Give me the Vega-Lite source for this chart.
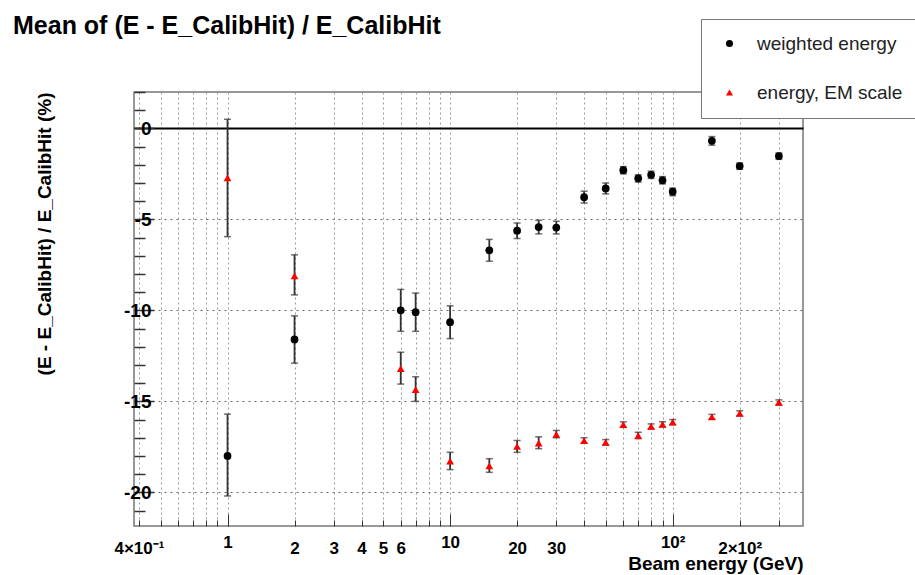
{
  "$schema": "https://vega.github.io/schema/vega-lite/v6.json",
  "width": 669,
  "height": 434,
  "autosize": {"type": "none"},
  "padding": {"left": 134, "top": 92, "right": 112, "bottom": 49},
  "background": "white",
  "title": {
    "text": "Mean of (E - E_CalibHit) / E_CalibHit",
    "anchor": "start",
    "frame": "group",
    "font": "Liberation Sans",
    "fontSize": 25,
    "fontWeight": "bold",
    "color": "black",
    "dx": -121,
    "offset": 0,
    "dy": 20
  },
  "config": {
    "view": {"stroke": "#777", "strokeWidth": 1.5},
    "font": "Liberation Sans"
  },
  "data": {
    "values": [
      {"E": 1, "series": "weighted energy", "v": -18.0, "lo": -20.2, "hi": -15.7},
      {"E": 2, "series": "weighted energy", "v": -11.6, "lo": -12.9, "hi": -10.3},
      {"E": 6, "series": "weighted energy", "v": -10.0, "lo": -11.15, "hi": -8.85},
      {"E": 7, "series": "weighted energy", "v": -10.1, "lo": -11.15, "hi": -9.05},
      {"E": 10, "series": "weighted energy", "v": -10.65, "lo": -11.55, "hi": -9.75},
      {"E": 15, "series": "weighted energy", "v": -6.7, "lo": -7.3, "hi": -6.1},
      {"E": 20, "series": "weighted energy", "v": -5.62, "lo": -6.05, "hi": -5.2},
      {"E": 25, "series": "weighted energy", "v": -5.42, "lo": -5.8, "hi": -5.05},
      {"E": 30, "series": "weighted energy", "v": -5.45, "lo": -5.8, "hi": -5.1},
      {"E": 40, "series": "weighted energy", "v": -3.78, "lo": -4.1, "hi": -3.45},
      {"E": 50, "series": "weighted energy", "v": -3.3, "lo": -3.6, "hi": -3.0},
      {"E": 60, "series": "weighted energy", "v": -2.3, "lo": -2.5, "hi": -2.1},
      {"E": 70, "series": "weighted energy", "v": -2.74, "lo": -2.95, "hi": -2.55},
      {"E": 80, "series": "weighted energy", "v": -2.55, "lo": -2.75, "hi": -2.35},
      {"E": 90, "series": "weighted energy", "v": -2.85, "lo": -3.05, "hi": -2.65},
      {"E": 100, "series": "weighted energy", "v": -3.48, "lo": -3.7, "hi": -3.28},
      {"E": 150, "series": "weighted energy", "v": -0.68, "lo": -0.92, "hi": -0.45},
      {"E": 200, "series": "weighted energy", "v": -2.07, "lo": -2.25, "hi": -1.9},
      {"E": 300, "series": "weighted energy", "v": -1.52, "lo": -1.7, "hi": -1.35},
      {"E": 1, "series": "energy, EM scale", "v": -2.72, "lo": -5.95, "hi": 0.5},
      {"E": 2, "series": "energy, EM scale", "v": -8.1, "lo": -9.15, "hi": -6.95},
      {"E": 6, "series": "energy, EM scale", "v": -13.2, "lo": -14.05, "hi": -12.3},
      {"E": 7, "series": "energy, EM scale", "v": -14.35, "lo": -15.0, "hi": -13.65},
      {"E": 10, "series": "energy, EM scale", "v": -18.28, "lo": -18.75, "hi": -17.8},
      {"E": 15, "series": "energy, EM scale", "v": -18.55, "lo": -18.9, "hi": -18.15},
      {"E": 20, "series": "energy, EM scale", "v": -17.47, "lo": -17.8, "hi": -17.15},
      {"E": 25, "series": "energy, EM scale", "v": -17.3, "lo": -17.6, "hi": -16.95},
      {"E": 30, "series": "energy, EM scale", "v": -16.82, "lo": -17.0, "hi": -16.6},
      {"E": 40, "series": "energy, EM scale", "v": -17.16, "lo": -17.3, "hi": -17.0},
      {"E": 50, "series": "energy, EM scale", "v": -17.25, "lo": -17.4, "hi": -17.1},
      {"E": 60, "series": "energy, EM scale", "v": -16.28, "lo": -16.43, "hi": -16.13},
      {"E": 70, "series": "energy, EM scale", "v": -16.88, "lo": -17.05, "hi": -16.7},
      {"E": 80, "series": "energy, EM scale", "v": -16.38, "lo": -16.52, "hi": -16.24},
      {"E": 90, "series": "energy, EM scale", "v": -16.26, "lo": -16.4, "hi": -16.12},
      {"E": 100, "series": "energy, EM scale", "v": -16.14, "lo": -16.28, "hi": -16.0},
      {"E": 150, "series": "energy, EM scale", "v": -15.85, "lo": -15.98, "hi": -15.72},
      {"E": 200, "series": "energy, EM scale", "v": -15.66, "lo": -15.8, "hi": -15.52},
      {"E": 300, "series": "energy, EM scale", "v": -15.06, "lo": -15.2, "hi": -14.92}
    ]
  },
  "encoding": {
    "x": {
      "field": "E",
      "type": "quantitative",
      "scale": {"type": "log", "domain": [0.38, 385], "nice": false},
      "axis": {
        "title": "Beam energy (GeV)",
        "titleFont": "Liberation Sans",
        "titleFontSize": 19,
        "titleFontWeight": "bold",
        "titleColor": "black",
        "titleAnchor": "end",
        "titleAlign": "right",
        "titleBaseline": "alphabetic",
        "titleX": 669,
        "titleY": 43,
        "values": [0.4, 0.5, 0.6, 0.7, 0.8, 0.9, 1, 2, 3, 4, 5, 6, 7, 8, 9, 10, 20, 30, 40, 50, 60, 70, 80, 90, 100, 200, 300],
        "labelExpr": "datum.value == 0.4 ? '4×10⁻¹' : datum.value == 100 ? '10²' : datum.value == 200 ? '2×10²' : indexof([1,2,3,4,5,6,10,20,30], datum.value) >= 0 ? '' + datum.value : ''",
        "labelFont": "Liberation Sans",
        "labelFontSize": 17,
        "labelFontWeight": "bold",
        "labelColor": "black",
        "labelOverlap": false,
        "labelFlush": false,
        "labelPadding": 20,
        "domain": false,
        "tickColor": "#333",
        "tickWidth": 1,
        "tickSize": {"condition": {"test": "datum.value == 1 || datum.value == 10 || datum.value == 100", "value": -12}, "value": -6},
        "grid": true,
        "gridColor": "#999",
        "gridDash": [2, 3],
        "gridWidth": 1
      }
    },
    "y": {
      "field": "v",
      "type": "quantitative",
      "scale": {"domain": [-21.85, 2], "nice": false, "zero": false},
      "axis": {
        "title": "(E - E_CalibHit) / E_CalibHit (%)",
        "titleFont": "Liberation Sans",
        "titleFontSize": 19,
        "titleFontWeight": "bold",
        "titleColor": "black",
        "titleAngle": -90,
        "titleAlign": "right",
        "titleBaseline": "alphabetic",
        "titleX": -84,
        "titleY": 0,
        "values": [-21, -20, -19, -18, -17, -16, -15, -14, -13, -12, -11, -10, -9, -8, -7, -6, -5, -4, -3, -2, -1, 0, 1, 2],
        "labelExpr": "datum.value % 5 == 0 ? '' + datum.value : ''",
        "labelFont": "Liberation Sans",
        "labelFontSize": 19,
        "labelFontWeight": "bold",
        "labelColor": "black",
        "labelOverlap": false,
        "labelFlush": false,
        "labelPadding": 3,
        "domain": false,
        "tickColor": "#333",
        "tickWidth": 1.5,
        "tickSize": {"condition": {"test": "datum.value % 5 == 0", "value": -20}, "value": -11},
        "grid": true,
        "gridColor": {"condition": {"test": "datum.value == 0", "value": "black"}, "value": "#666"},
        "gridDash": {"condition": {"test": "datum.value == 0", "value": []}, "value": [2, 4]},
        "gridWidth": {"condition": {"test": "datum.value == 0", "value": 2}, "value": 1},
        "gridOpacity": {"condition": {"test": "datum.value % 5 == 0", "value": 1}, "value": 0}
      }
    }
  },
  "layer": [
    {
      "mark": {"type": "errorbar", "ticks": {"size": 7, "color": "#333", "thickness": 1.5}, "rule": {"color": "#333", "strokeWidth": 1.8}},
      "encoding": {
        "y": {"field": "lo", "type": "quantitative"},
        "y2": {"field": "hi"}
      }
    },
    {
      "mark": {"type": "point", "filled": true, "opacity": 1, "size": 60},
      "encoding": {
        "shape": {
          "field": "series",
          "type": "nominal",
          "scale": {"domain": ["weighted energy", "energy, EM scale"], "range": ["circle", "triangle-up"]},
          "legend": {
            "title": null,
            "orient": "none",
            "legendX": 567,
            "legendY": -73,
            "fillColor": "white",
            "strokeColor": "#777",
            "padding": 15,
            "symbolOffset": 4,
            "labelOffset": 18,
            "rowPadding": 29,
            "labelFont": "Liberation Sans",
            "labelFontSize": 19,
            "labelColor": "#222",
            "symbolSize": 50,
            "symbolStrokeWidth": 0
          }
        },
        "color": {
          "field": "series",
          "type": "nominal",
          "scale": {"domain": ["weighted energy", "energy, EM scale"], "range": ["black", "#ff0000"]},
          "legend": {
            "title": null,
            "orient": "none",
            "legendX": 567,
            "legendY": -73,
            "fillColor": "white",
            "strokeColor": "#777",
            "padding": 15,
            "symbolOffset": 4,
            "labelOffset": 18,
            "rowPadding": 29,
            "labelFont": "Liberation Sans",
            "labelFontSize": 19,
            "labelColor": "#222",
            "symbolSize": 50,
            "symbolStrokeWidth": 0
          }
        }
      }
    }
  ]
}
